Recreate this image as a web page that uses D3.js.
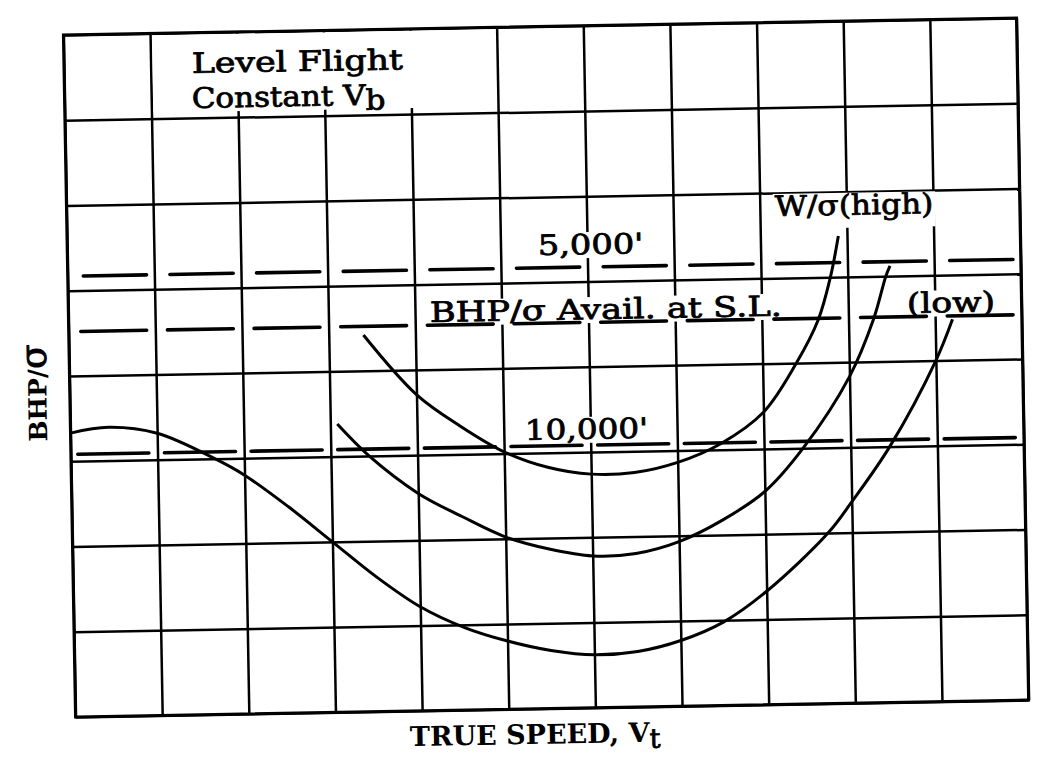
<!DOCTYPE html>
<html><head><meta charset="utf-8">
<script src="https://cdn.jsdelivr.net/npm/d3@7"></script>
<style>
html,body{margin:0;padding:0;background:#fff;}
svg{display:block;}
text{font-family:"DejaVu Serif","Liberation Serif",serif;fill:#000;}
</style></head><body>
<svg id="chart" width="1038" height="764"></svg>
<script>
// ---------- data (grid units: speed divisions 0..11, BHP/sigma divisions 0..8) ----------
const xGrid = d3.range(0, 12);
const yGrid = d3.range(0, 9);

// BHP/sigma required, W/sigma high
const curveHigh = [[3.4,4.42],[4,3.71],[4.5,3.33],[5,3.02],[5.5,2.83],[6,2.74],[6.5,2.75],[7,2.86],[7.5,3.07],[8,3.43],[8.39,4.0],[8.65,4.5],[8.8,5.0],[8.9,5.48]];
// intermediate W/sigma
const curveMid = [[3.08,3.38],[3.44,3.0],[4,2.55],[4.5,2.27],[5,2.02],[5.5,1.87],[6,1.78],[6.5,1.8],[7,1.93],[7.5,2.17],[8,2.5],[8.45,3.0],[9,3.83],[9.29,4.5],[9.44,5.0],[9.49,5.12]];
// W/sigma low
const curveLow = [[0,3.33],[0.44,3.39],[1,3.31],[1.66,3.0],[2,2.8],[2.5,2.42],[3,2.0],[3.5,1.58],[4,1.22],[4.5,0.97],[5,0.8],[5.5,0.68],[6,0.62],[6.5,0.65],[7,0.77],[7.5,0.98],[8,1.33],[8.72,2.0],[9,2.36],[9.45,3.0],[10,4.0],[10.2,4.48]];

// BHP/sigma available levels (dashed)
const availNames = ["5,000'", "S.L.", "10,000'"];
const availValues = [5.17, 4.52, 3.08];

// annotation texts and their anchor (grid units)
const labelTexts = ["Level Flight", "Constant V", "5,000'", "BHP/σ Avail. at S.L.", "W/σ(high)", "(low)", "10,000'"];
const labelX = [1.475, 1.468, 5.431, 4.171, 8.174, 9.678, 5.243];
const labelY = [7.528, 7.118, 5.321, 4.558, 5.729, 4.564, 3.154];
const labelSub = ["", "b", "", "", "", "", ""];

const xTitle = "TRUE SPEED, V", xTitleSub = "t";
const yTitleMain = "BHP/", yTitleSig = "σ";

// ---------- drawing ----------
const svg = d3.select("#chart");
svg.append("rect").attr("width",1038).attr("height",764).attr("fill","#fff");

const x = d3.scaleLinear().domain([0,11]).range([69.4,1022.6]);
const y = d3.scaleLinear().domain([0,8]).range([708.5,26.5]);

const g = svg.append("g").attr("transform","rotate(-1.02,546,367.5)");
const gridG = g.append("g");
const bgG = g.append("g");
const dashG = g.append("g");
const curveG = g.append("g");
const textG = g.append("g");

const H = y(0) - y(8), W = x(11) - x(0);
gridG.append("g").attr("transform",`translate(0,${y(0)})`)
  .call(d3.axisBottom(x).tickValues(xGrid).tickSize(-H).tickFormat(""));
gridG.append("g").attr("transform",`translate(${x(0)},0)`)
  .call(d3.axisLeft(y).tickValues(yGrid).tickSize(-W).tickFormat(""));
gridG.selectAll(".domain").remove();
gridG.selectAll(".tick line").attr("stroke","#000").attr("stroke-width",2.5);

gridG.append("rect").attr("x",x(0)).attr("y",y(8)).attr("width",W).attr("height",H)
  .attr("fill","none").attr("stroke","#000").attr("stroke-width",3);

// white box for the title block in the top row
bgG.append("rect").attr("x",x(1)+2).attr("y",y(8)+2)
  .attr("width",x(5)-x(1)-4).attr("height",y(7)-y(8)-8).attr("fill","#fff");

// dashed available-power lines, one dash per column
const dashFrac = [[0.18,0.91],[0.14,0.90],[0.08,0.90]];
availValues.forEach((v,i)=>{
  dashG.selectAll(null).data(xGrid.slice(0,11)).enter().append("line")
    .attr("x1",c=>x(c+dashFrac[i][0])).attr("x2",c=>x(c+dashFrac[i][1]))
    .attr("y1",y(v)).attr("y2",y(v))
    .attr("stroke","#000").attr("stroke-width",3.6).attr("stroke-linecap","round");
});

const line = d3.line().x(d=>x(d[0])).y(d=>y(d[1])).curve(d3.curveCatmullRom.alpha(0.5));
[curveHigh, curveMid, curveLow].forEach(c=>{
  curveG.append("path").attr("d",line(c)).attr("fill","none")
    .attr("stroke","#000").attr("stroke-width",3);
});

const CH = 17.6, FS = 28;
labelTexts.forEach((t,i)=>{
  const px = x(labelX[i]), py = y(labelY[i]);
  const n = [...t].length + (labelSub[i] ? 1 : 0);
  const el = textG.append("text").attr("x",px).attr("y",py)
    .attr("font-size",FS).attr("stroke","#000").attr("stroke-width",0.8)
    .attr("textLength",n*CH).attr("lengthAdjust","spacingAndGlyphs");
  el.append("tspan").text(t);
  if (labelSub[i]) el.append("tspan").attr("dy",5).text(labelSub[i]);
  if (i >= 2) {
    const bottomPad = t.indexOf("high")>=0 ? 13 : 4;
    bgG.append("rect").attr("x",px-2).attr("y",py-22).attr("width",n*CH+4)
      .attr("height",22+bottomPad).attr("fill","#fff");
  }
});

// axis titles
const tx = 403.3, ty = 743.6, tn = [...xTitle].length + 1;
const xt = textG.append("text").attr("x",tx).attr("y",ty).attr("font-size",27).attr("font-weight","bold")
  .attr("textLength",tn*17.9).attr("lengthAdjust","spacingAndGlyphs");
xt.append("tspan").text(xTitle);
xt.append("tspan").attr("dy",6).attr("font-weight","normal").attr("stroke","#000").attr("stroke-width",0.8).text(xTitleSub);

const yt = textG.append("text").attr("transform","translate(46,384) rotate(-90)")
  .attr("text-anchor","middle").attr("font-weight","bold");
yt.append("tspan").attr("font-size",25).text(yTitleMain);
yt.append("tspan").attr("font-size",36).attr("font-weight","normal").attr("stroke","#000").attr("stroke-width",1).text(yTitleSig);
</script>
</body></html>
